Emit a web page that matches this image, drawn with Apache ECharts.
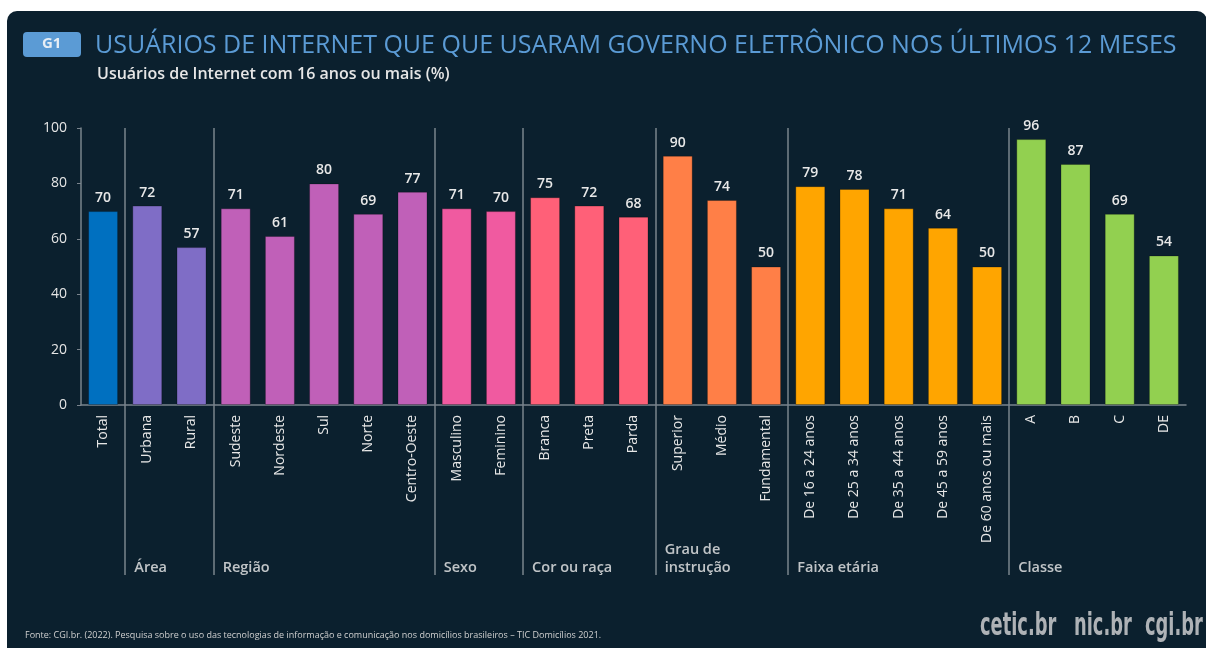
<!DOCTYPE html>
<html>
<head>
<meta charset="utf-8">
<script src="https://cdn.jsdelivr.net/npm/echarts@6/dist/echarts.min.js"></script>
<style>
  html, body { margin: 0; padding: 0; background: #ffffff; }
  #panel { position: absolute; left: 7px; top: 11px; width: 1200px; height: 650px; background: #0b202e; border-radius: 10px; }
  #chart { position: absolute; left: 0; top: 0; width: 1206px; height: 648px; }
</style>
</head>
<body>
<div id="panel"></div>
<div id="chart"></div>
<script>
// dados
const categories = ['Total', 'Urbana', 'Rural', 'Sudeste', 'Nordeste', 'Sul', 'Norte', 'Centro-Oeste',
  'Masculino', 'Feminino', 'Branca', 'Preta', 'Parda', 'Superior', 'Médio', 'Fundamental',
  'De 16 a 24 anos', 'De 25 a 34 anos', 'De 35 a 44 anos', 'De 45 a 59 anos', 'De 60 anos ou mais',
  'A', 'B', 'C', 'DE']
const values = [70, 72, 57, 71, 61, 80, 69, 77, 71, 70, 75, 72, 68, 90, 74, 50, 79, 78, 71, 64, 50, 96, 87, 69, 54]
const groupNames = ['', 'Área', 'Região', 'Sexo', 'Cor ou raça', 'Grau de\ninstrução', 'Faixa etária', 'Classe']
const groupSizes = [1, 2, 5, 2, 3, 3, 5, 4]
const groupColors = ['#0070c0', '#7f6dc6', '#c060b8', '#f05aa0', '#ff6078', '#ff7f47', '#ffa500', '#92d050']
const yTicks = [0, 20, 40, 60, 80, 100]

// índice inicial de cada grupo
const groupStart = []
let acc = 0
groupSizes.forEach(n => { groupStart.push(acc); acc += n })
const barColors = []
groupSizes.forEach((n, g) => { for (let i = 0; i < n; i++) barColors.push(groupColors[g]) })
const separators = groupStart.slice(1)

// a faixa de baixo (rótulos dos grupos) começa depois do "Total"
const lowerCats = categories.slice(1)
const lowerSeparators = separators.map(i => i - 1)

const font = "'Open Sans', 'Noto Sans', sans-serif"
const lineColor = '#7a848d'
const logoFont = "bold 32px 'DejaVu Sans Condensed', 'Liberation Sans Narrow', sans-serif"

const plotLeft = 81, plotRight = 20
const bandWidth = (1206 - plotLeft - plotRight) / categories.length

const chart = echarts.init(document.getElementById('chart'), null, {renderer: 'canvas'})

chart.setOption({
  animation: false,
  backgroundColor: 'transparent',
  textStyle: {fontFamily: font},
  title: [{
    text: 'USUÁRIOS DE INTERNET QUE QUE USARAM GOVERNO ELETRÔNICO NOS ÚLTIMOS 12 MESES',
    left: 90, top: 28,
    textStyle: {color: '#5b9bd5', fontSize: 25, fontWeight: 'normal', fontFamily: font}
  }, {
    text: 'Usuários de Internet com 16 anos ou mais (%)',
    left: 92, top: 61,
    textStyle: {color: '#e6e6e6', fontSize: 16, fontWeight: 600, fontFamily: font}
  }],
  grid: [
    {left: plotLeft, right: plotRight, top: 128, bottom: 243},
    {left: plotLeft + bandWidth, right: plotRight, top: 405, height: 170}
  ],
  xAxis: [{
    type: 'category', gridIndex: 0, data: categories,
    axisLine: {lineStyle: {color: lineColor, width: 1.5}},
    axisTick: {show: false},
    axisLabel: {rotate: 90, color: '#e6e6e6', fontSize: 14, margin: 10, interval: 0, fontFamily: font},
    splitLine: {
      show: true, showMaxLine: false,
      interval: (index) => separators.indexOf(index) >= 0,
      lineStyle: {color: lineColor, width: 1.5}
    }
  }, {
    type: 'category', gridIndex: 1, data: lowerCats,
    axisLine: {show: false}, axisTick: {show: false}, axisLabel: {show: false},
    splitLine: {
      show: true, showMaxLine: false,
      interval: (index) => lowerSeparators.indexOf(index) >= 0,
      lineStyle: {color: lineColor, width: 1.5}
    }
  }],
  yAxis: [{
    type: 'value', gridIndex: 0, min: 0, max: 100, interval: 20,
    axisLine: {show: true, lineStyle: {color: lineColor, width: 1.5}},
    axisTick: {show: true, length: 4, lineStyle: {color: lineColor}},
    axisLabel: {color: '#e6e6e6', fontSize: 14, margin: 14, fontFamily: font},
    splitLine: {show: false}
  }, {
    type: 'value', gridIndex: 1, min: 0, max: 1, show: false
  }],
  series: [{
    type: 'bar', xAxisIndex: 0, yAxisIndex: 0, barWidth: 30,
    data: values.map((v, i) => ({value: v, itemStyle: {color: barColors[i]}})),
    itemStyle: {borderColor: 'rgba(0,0,0,0.25)', borderWidth: 1},
    label: {show: true, position: 'top', distance: 6, color: '#e8e8e8', fontSize: 14, fontWeight: 600, fontFamily: font}
  }, {
    type: 'scatter', xAxisIndex: 1, yAxisIndex: 1, symbolSize: 0,
    data: groupNames.map((name, g) => ({name: name, value: [groupStart[g] - 1, 0]})).filter(d => d.name),
    label: {
      show: true, position: 'inside', formatter: '{b}', align: 'left', verticalAlign: 'bottom',
      offset: [-13, 2], color: '#eeeeee', fontSize: 14.5, fontWeight: 600, lineHeight: 18, fontFamily: font
    }
  }],
  graphic: [{
    type: 'rect', left: 23, top: 32, shape: {width: 58, height: 25, r: 4},
    style: {fill: '#5b9bd5'}
  }, {
    type: 'text', left: 42, top: 36,
    style: {text: 'G1', fill: '#e8eef5', font: "bold 15px 'Open Sans', sans-serif"}
  }, {
    type: 'text', left: 25, top: 631,
    style: {text: 'Fonte: CGI.br. (2022). Pesquisa sobre o uso das tecnologias de informação e comunicação nos domicílios brasileiros – TIC Domicílios 2021.',
      fill: '#d0d0d0', font: "9px 'Open Sans', sans-serif"}
  }, {
    type: 'text', x: 980, y: 611, scaleX: 0.62,
    style: {text: 'cetic.br', fill: '#aeb2b6', font: logoFont}
  }, {
    type: 'text', x: 1074, y: 611, scaleX: 0.62,
    style: {text: 'nic.br', fill: '#aeb2b6', font: logoFont}
  }, {
    type: 'text', x: 1145, y: 611, scaleX: 0.62,
    style: {text: 'cgi.br', fill: '#aeb2b6', font: logoFont}
  }]
})
</script>
</body>
</html>
